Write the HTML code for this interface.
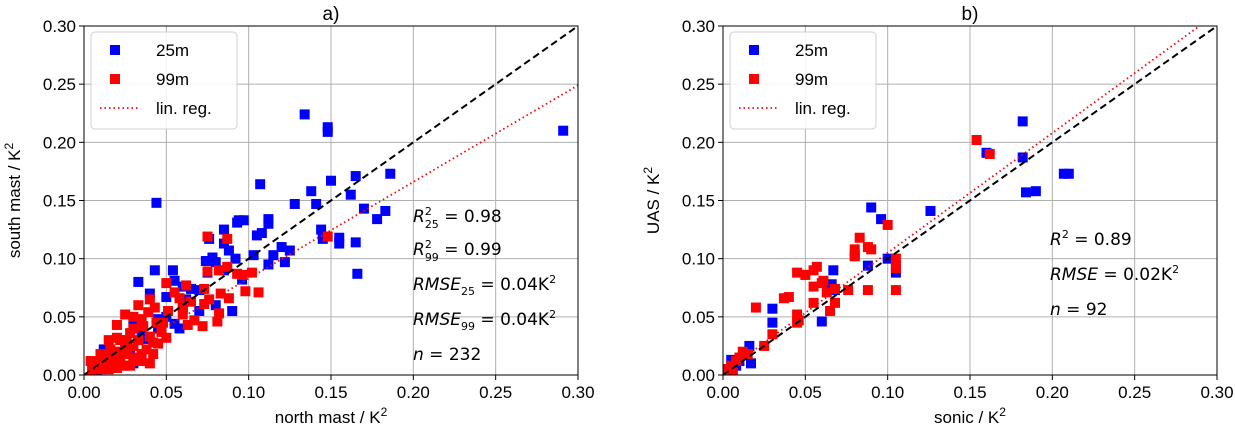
<!DOCTYPE html>
<html><head><meta charset="utf-8"><style>
body{margin:0;background:#fff;}
svg{font-family:"Liberation Sans","DejaVu Sans",sans-serif;}
</style></head><body>
<svg id="c" width="1235" height="429" viewBox="0 0 1235 429" xmlns="http://www.w3.org/2000/svg"></svg>
<script>
const ticks=[0,0.05,0.10,0.15,0.20,0.25,0.30];
const tickLabels=["0.00","0.05","0.10","0.15","0.20","0.25","0.30"];
const aBlue=[[0.134,0.224],[0.148,0.213],[0.148,0.209],[0.291,0.210],[0.044,0.148],[0.107,0.164],[0.15,0.167],[0.165,0.171],[0.186,0.173],[0.138,0.158],[0.141,0.147],[0.128,0.147],[0.162,0.155],[0.17,0.143],[0.183,0.141],[0.178,0.134],[0.112,0.134],[0.112,0.13],[0.094,0.133],[0.097,0.133],[0.093,0.131],[0.085,0.125],[0.105,0.12],[0.108,0.122],[0.144,0.125],[0.145,0.117],[0.155,0.118],[0.165,0.114],[0.155,0.113],[0.076,0.117],[0.085,0.113],[0.088,0.107],[0.125,0.107],[0.12,0.11],[0.115,0.103],[0.092,0.1],[0.103,0.103],[0.112,0.095],[0.166,0.087],[0.122,0.097],[0.078,0.101],[0.074,0.098],[0.08,0.097],[0.096,0.082],[0.085,0.09],[0.075,0.088],[0.043,0.09],[0.054,0.09],[0.055,0.081],[0.033,0.08],[0.06,0.076],[0.065,0.074],[0.07,0.073],[0.04,0.07],[0.05,0.067],[0.062,0.065],[0.06,0.058],[0.09,0.055],[0.08,0.06],[0.07,0.055],[0.045,0.048],[0.05,0.05],[0.055,0.044],[0.045,0.04],[0.058,0.04],[0.03,0.045],[0.038,0.031],[0.025,0.025],[0.028,0.02],[0.02,0.018],[0.015,0.015],[0.01,0.01],[0.005,0.005],[0.008,0.003],[0.012,0.022],[0.035,0.035],[0.03,0.01]];
const aRed=[[0.075,0.119],[0.087,0.117],[0.148,0.119],[0.087,0.093],[0.102,0.088],[0.096,0.086],[0.093,0.087],[0.075,0.089],[0.082,0.09],[0.062,0.077],[0.05,0.079],[0.098,0.072],[0.106,0.071],[0.055,0.071],[0.073,0.074],[0.083,0.07],[0.076,0.065],[0.088,0.066],[0.04,0.065],[0.058,0.066],[0.065,0.063],[0.033,0.06],[0.043,0.058],[0.06,0.057],[0.073,0.061],[0.051,0.055],[0.039,0.054],[0.025,0.052],[0.03,0.05],[0.044,0.045],[0.035,0.048],[0.06,0.052],[0.067,0.047],[0.082,0.053],[0.081,0.046],[0.063,0.043],[0.072,0.042],[0.02,0.043],[0.047,0.037],[0.04,0.033],[0.05,0.032],[0.028,0.036],[0.033,0.03],[0.02,0.032],[0.015,0.03],[0.045,0.027],[0.025,0.025],[0.018,0.02],[0.01,0.018],[0.03,0.015],[0.04,0.01],[0.022,0.012],[0.012,0.012],[0.008,0.01],[0.015,0.005],[0.005,0.004],[0.02,0.006],[0.028,0.008],[0.035,0.018],[0.03,0.025],[0.022,0.03],[0.018,0.012],[0.025,0.008],[0.012,0.016],[0.016,0.022],[0.026,0.018],[0.034,0.012],[0.022,0.02],[0.038,0.022],[0.042,0.018],[0.004,0.012],[0.01,0.005],[0.03,0.04],[0.036,0.042],[0.048,0.045],[0.042,0.028],[0.026,0.03],[0.018,0.008]];
const bBlue=[[0.182,0.218],[0.16,0.191],[0.182,0.187],[0.184,0.157],[0.19,0.158],[0.207,0.173],[0.21,0.173],[0.09,0.144],[0.096,0.134],[0.126,0.141],[0.1,0.1],[0.105,0.094],[0.105,0.088],[0.088,0.094],[0.08,0.103],[0.067,0.09],[0.065,0.075],[0.068,0.073],[0.066,0.078],[0.06,0.046],[0.03,0.057],[0.03,0.045],[0.016,0.025],[0.017,0.01],[0.01,0.012],[0.005,0.013],[0.003,0.005],[0.008,0.008]];
const bRed=[[0.154,0.202],[0.162,0.19],[0.1,0.129],[0.083,0.118],[0.088,0.11],[0.09,0.108],[0.08,0.108],[0.08,0.102],[0.105,0.1],[0.105,0.092],[0.105,0.073],[0.088,0.073],[0.076,0.073],[0.05,0.086],[0.045,0.088],[0.055,0.09],[0.057,0.093],[0.04,0.067],[0.037,0.066],[0.055,0.076],[0.061,0.081],[0.06,0.079],[0.068,0.074],[0.063,0.071],[0.068,0.062],[0.055,0.062],[0.065,0.055],[0.045,0.052],[0.046,0.047],[0.045,0.045],[0.02,0.058],[0.03,0.035],[0.025,0.025],[0.012,0.02],[0.01,0.015],[0.008,0.012],[0.005,0.008],[0.003,0.005],[0.006,0.002],[0.015,0.018]];
const aReg=[0.83,0.0];
const bReg=[1.03,0.002];

const NS="http://www.w3.org/2000/svg";
const svg=document.getElementById('c');
function mk(tag,attrs,parent){const e=document.createElementNS(NS,tag);for(const k in attrs)e.setAttribute(k,attrs[k]);(parent||svg).appendChild(e);return e;}
const M=10, FS=17;
function panel(id,L,R,T,B,title,xlab,ylab,blue,red,reg,annot){
  const g=mk('g',{});
  
  
  const sx=v=>L+v/0.3*(R-L), sy=v=>B-v/0.3*(B-T);
  const cp=mk('clipPath',{id:'clip'+id},g);mk('rect',{x:L,y:T,width:R-L,height:B-T},cp);
  ticks.forEach((t,i)=>{
    const gx=mk('line',{x1:sx(t),x2:sx(t),y1:T,y2:B,stroke:'#b0b0b0','stroke-width':1},g);
    
    const gy=mk('line',{x1:L,x2:R,y1:sy(t),y2:sy(t),stroke:'#b0b0b0','stroke-width':1},g);
    
    mk('line',{x1:sx(t),x2:sx(t),y1:B,y2:B+5,stroke:'#000'},g);
    mk('line',{x1:L-5,x2:L,y1:sy(t),y2:sy(t),stroke:'#000'},g);
    const xt=mk('text',{x:sx(t),y:B+23,'text-anchor':'middle','font-size':FS},g);xt.textContent=tickLabels[i];
    
    const yt=mk('text',{x:L-8,y:sy(t)+6,'text-anchor':'end','font-size':FS},g);yt.textContent=tickLabels[i];
    
  });
  const pg=mk('g',{'clip-path':'url(#clip'+id+')'},g);
  blue.forEach(p=>{const r=mk('rect',{x:sx(p[0])-M/2,y:sy(p[1])-M/2,width:M,height:M,fill:'#0000ff'},pg);
    });
  red.forEach(p=>{const r=mk('rect',{x:sx(p[0])-M/2,y:sy(p[1])-M/2,width:M,height:M,fill:'#ff0000'},pg);
    });
  const d=mk('line',{x1:sx(0),y1:sy(0),x2:sx(0.3),y2:sy(0.3),stroke:'#000','stroke-width':2,'stroke-dasharray':'7,4'},pg);
  
  const rl=mk('line',{x1:sx(0),y1:sy(reg[1]),x2:sx(0.3),y2:sy(reg[1]+reg[0]*0.3),stroke:'#ff0000','stroke-width':1.8,'stroke-dasharray':'1.5,3'},pg);
  
  mk('rect',{x:L,y:T,width:R-L,height:B-T,fill:'none',stroke:'#000','stroke-width':1},g);
  const tt=mk('text',{x:(L+R)/2,y:T-6,'text-anchor':'middle','font-size':19},g);tt.textContent=title;
  
  const xl=mk('text',{x:(L+R)/2,y:B+48,'text-anchor':'middle','font-size':FS},g);xl.innerHTML=xlab+' / K<tspan dy="-7" font-size="12">2</tspan>';
  
  const yl=mk('text',{x:L-64,y:(T+B)/2,'text-anchor':'middle','font-size':FS,transform:`rotate(-90 ${L-64} ${(T+B)/2})`},g);yl.innerHTML=ylab+' / K<tspan dy="-7" font-size="12">2</tspan>';
  
  const lg=mk('g',{},g);
  mk('rect',{x:L+7,y:T+6,width:146,height:97,rx:4,fill:'#fff','fill-opacity':0.85,stroke:'#d0d0d0'},lg);
  mk('rect',{x:L+26,y:T+19,width:M,height:M,fill:'#0000ff'},lg);
  mk('rect',{x:L+26,y:T+48,width:M,height:M,fill:'#ff0000'},lg);
  mk('line',{x1:L+16,x2:L+56,y1:T+82,y2:T+82,stroke:'#ff0000','stroke-width':1.8,'stroke-dasharray':'1.5,3'},lg);
  [['25m',T+30],['99m',T+59],['lin. reg.',T+88]].forEach(a=>{const t=mk('text',{x:L+72,y:a[1],'font-size':FS},lg);t.textContent=a[0];});
  annot.forEach(a=>{const t=mk('text',{x:a[0],y:a[1],'font-size':17,'font-family':'"DejaVu Sans",sans-serif'},g);t.innerHTML=a[2];
    });
}
panel('a',84,578,26,375,'a)','north mast','south mast',aBlue,aRed,aReg,[
 [413,222,'<tspan font-style="italic">R</tspan><tspan dy="-7" font-size="11">2</tspan><tspan dy="13" dx="-7" font-size="11">25</tspan><tspan dy="-6"> = 0.98</tspan>'],
 [413,255,'<tspan font-style="italic">R</tspan><tspan dy="-7" font-size="11">2</tspan><tspan dy="13" dx="-7" font-size="11">99</tspan><tspan dy="-6"> = 0.99</tspan>'],
 [413,290,'<tspan font-style="italic">RMSE</tspan><tspan dy="5" font-size="11">25</tspan><tspan dy="-5"> = 0.04K</tspan><tspan dy="-7" font-size="11">2</tspan>'],
 [413,325,'<tspan font-style="italic">RMSE</tspan><tspan dy="5" font-size="11">99</tspan><tspan dy="-5"> = 0.04K</tspan><tspan dy="-7" font-size="11">2</tspan>'],
 [413,360,'<tspan font-style="italic">n</tspan> = 232']]);
panel('b',723,1217,26,375,'b)','sonic','UAS',bBlue,bRed,bReg,[
 [1050,245,'<tspan font-style="italic">R</tspan><tspan dy="-7" font-size="11">2</tspan><tspan dy="7"> = 0.89</tspan>'],
 [1050,280,'<tspan font-style="italic">RMSE</tspan> = 0.02K<tspan dy="-7" font-size="11">2</tspan>'],
 [1050,315,'<tspan font-style="italic">n</tspan> = 92']]);
</script>
</body></html>
